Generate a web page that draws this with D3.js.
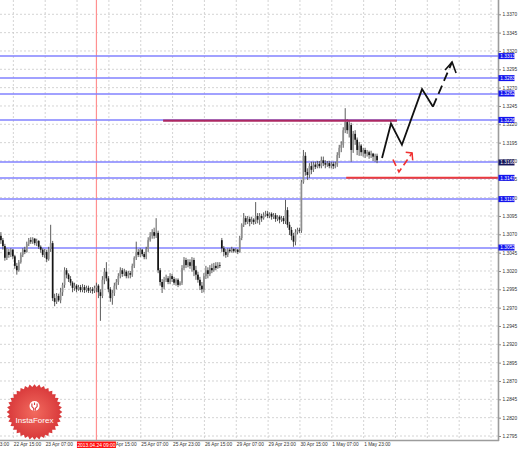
<!DOCTYPE html>
<html>
<head>
<meta charset="utf-8">
<script src="https://cdn.jsdelivr.net/npm/d3@7"></script>
<style>
  html, body { margin: 0; padding: 0; background: #fff; }
  svg { display: block; font-family: "Liberation Sans", Arial, sans-serif; }
</style>
</head>
<body>
<div id="chart"></div>
<script>
// H1 candles, first one is bar 10 (bar 0 = 21 Apr 23:00)
const firstBar = 10;

const opens = [
  1.3068,1.3062,1.3054,1.3038,1.3046,1.3042,1.3049,1.3040,1.3027,1.3021,
  1.3032,1.3042,1.3049,1.3046,1.3057,1.3062,1.3060,1.3064,1.3058,1.3061,
  1.3053,1.3049,1.3042,1.3046,1.3036,1.3050,1.3058,1.2983,1.2978,1.2986,
  1.2980,1.2991,1.3001,1.3021,1.3015,1.3009,1.3004,1.2997,1.3000,1.2995,
  1.2998,1.2994,1.2998,1.2994,1.2997,1.2993,1.2995,1.2993,1.2997,1.3000,
  1.2991,1.2986,1.3008,1.3019,1.3010,1.2995,1.2983,1.2990,1.3000,1.3005,
  1.3013,1.3021,1.3016,1.3019,1.3013,1.3017,1.3015,1.3027,1.3038,1.3046,
  1.3042,1.3049,1.3043,1.3039,1.3050,1.3062,1.3068,1.3073,1.3068,1.3072,
  1.3021,1.3005,1.2998,1.3008,1.3010,1.3005,1.3013,1.3009,1.3004,1.3008,
  1.3001,1.3004,1.3024,1.3035,1.3028,1.3032,1.3027,1.3035,1.3021,1.3015,
  1.3008,1.3000,1.2995,1.3013,1.3021,1.3016,1.3024,1.3021,1.3027,1.3024,
  1.3028,1.3062,1.3051,1.3046,1.3042,1.3049,1.3047,1.3050,1.3047,1.3049,
  1.3046,1.3065,1.3083,1.3092,1.3087,1.3091,1.3087,1.3090,1.3087,1.3095,
  1.3090,1.3095,1.3092,1.3096,1.3098,1.3095,1.3098,1.3094,1.3096,1.3091,
  1.3094,1.3090,1.3092,1.3088,1.3103,1.3083,1.3076,1.3068,1.3060,1.3073,
  1.3076,1.3075,1.3141,1.3177,1.3155,1.3151,1.3163,1.3158,1.3165,1.3162,
  1.3166,1.3163,1.3171,1.3167,1.3165,1.3167,1.3163,1.3166,1.3163,1.3165,
  1.3178,1.3188,1.3192,1.3212,1.3223,1.3212,1.3219,1.3185,1.3207,1.3199,
  1.3185,1.3191,1.3182,1.3185,1.3180,1.3182,1.3178,1.3180,1.3176,1.3177
];
const highs = [
  1.3073,1.3065,1.3057,1.3051,1.3050,1.3051,1.3050,1.3042,1.3031,1.3035,
  1.3045,1.3051,1.3053,1.3060,1.3065,1.3066,1.3066,1.3065,1.3064,1.3062,
  1.3055,1.3051,1.3050,1.3049,1.3053,1.3083,1.3061,1.2989,1.2990,1.2989,
  1.2997,1.3004,1.3025,1.3024,1.3017,1.3013,1.3006,1.3004,1.3002,1.3001,
  1.3001,1.3002,1.3001,1.3000,1.3000,1.2998,1.2998,1.3000,1.3004,1.3002,
  1.2995,1.3013,1.3024,1.3032,1.3013,1.2998,1.2994,1.3004,1.3009,1.3017,
  1.3025,1.3024,1.3023,1.3021,1.3020,1.3020,1.3030,1.3040,1.3060,1.3050,
  1.3051,1.3050,1.3046,1.3053,1.3066,1.3073,1.3077,1.3079,1.3092,1.3075,
  1.3024,1.3009,1.3012,1.3015,1.3013,1.3017,1.3016,1.3012,1.3010,1.3010,
  1.3006,1.3028,1.3039,1.3038,1.3036,1.3036,1.3039,1.3038,1.3027,1.3019,
  1.3012,1.3005,1.3017,1.3027,1.3025,1.3028,1.3030,1.3031,1.3032,1.3032,
  1.3032,1.3065,1.3054,1.3050,1.3051,1.3051,1.3053,1.3051,1.3051,1.3050,
  1.3068,1.3085,1.3099,1.3095,1.3095,1.3094,1.3094,1.3092,1.3114,1.3099,
  1.3099,1.3098,1.3100,1.3102,1.3102,1.3100,1.3100,1.3099,1.3099,1.3096,
  1.3096,1.3095,1.3095,1.3117,1.3107,1.3087,1.3080,1.3072,1.3077,1.3079,
  1.3079,1.3144,1.3185,1.3182,1.3160,1.3167,1.3169,1.3169,1.3169,1.3170,
  1.3170,1.3176,1.3176,1.3171,1.3170,1.3170,1.3169,1.3169,1.3169,1.3182,
  1.3192,1.3197,1.3216,1.3242,1.3227,1.3225,1.3222,1.3211,1.3212,1.3202,
  1.3196,1.3193,1.3188,1.3188,1.3185,1.3184,1.3184,1.3181,1.3180,1.3180
];
const lows = [
  1.3057,1.3049,1.3034,1.3035,1.3038,1.3039,1.3036,1.3023,1.3015,1.3019,
  1.3030,1.3039,1.3043,1.3045,1.3054,1.3057,1.3057,1.3055,1.3054,1.3050,
  1.3045,1.3039,1.3038,1.3032,1.3034,1.3046,1.2979,1.2972,1.2975,1.2978,
  1.2976,1.2986,1.2997,1.3010,1.3005,1.3000,1.2991,1.2993,1.2991,1.2993,
  1.2991,1.2991,1.2990,1.2991,1.2990,1.2990,1.2989,1.2990,1.2991,1.2983,
  1.2952,1.2983,1.3002,1.3006,1.2991,1.2978,1.2974,1.2986,1.2995,1.3001,
  1.3010,1.3012,1.3013,1.3010,1.3010,1.3010,1.3012,1.3024,1.3035,1.3039,
  1.3039,1.3040,1.3036,1.3036,1.3046,1.3060,1.3064,1.3064,1.3065,1.3017,
  1.3000,1.2990,1.2995,1.3005,1.3002,1.3002,1.3005,1.3001,1.3000,1.2998,
  1.3000,1.3001,1.3021,1.3024,1.3025,1.3023,1.3019,1.3013,1.3008,1.3004,
  1.2994,1.2990,1.2991,1.3009,1.3010,1.3013,1.3017,1.3019,1.3021,1.3023,
  1.3024,1.3046,1.3040,1.3038,1.3039,1.3045,1.3045,1.3045,1.3045,1.3043,
  1.3045,1.3062,1.3080,1.3083,1.3084,1.3081,1.3084,1.3083,1.3084,1.3085,
  1.3083,1.3087,1.3090,1.3094,1.3092,1.3092,1.3090,1.3091,1.3087,1.3088,
  1.3085,1.3087,1.3084,1.3084,1.3079,1.3069,1.3062,1.3053,1.3055,1.3070,
  1.3072,1.3072,1.3139,1.3150,1.3144,1.3147,1.3152,1.3155,1.3159,1.3160,
  1.3160,1.3160,1.3163,1.3160,1.3162,1.3160,1.3160,1.3159,1.3160,1.3162,
  1.3174,1.3182,1.3188,1.3208,1.3207,1.3202,1.3169,1.3181,1.3192,1.3178,
  1.3177,1.3177,1.3176,1.3174,1.3176,1.3173,1.3174,1.3170,1.3169,1.3167
];
const closes = [
  1.3062,1.3054,1.3038,1.3046,1.3042,1.3049,1.3040,1.3027,1.3021,1.3032,
  1.3042,1.3049,1.3046,1.3057,1.3062,1.3060,1.3064,1.3058,1.3061,1.3053,
  1.3049,1.3042,1.3046,1.3036,1.3050,1.3058,1.2983,1.2978,1.2986,1.2980,
  1.2991,1.3001,1.3021,1.3015,1.3009,1.3004,1.2997,1.3000,1.2995,1.2998,
  1.2994,1.2998,1.2994,1.2997,1.2993,1.2995,1.2993,1.2997,1.3000,1.2991,
  1.2986,1.3008,1.3019,1.3010,1.2995,1.2983,1.2990,1.3000,1.3005,1.3013,
  1.3021,1.3016,1.3019,1.3013,1.3017,1.3015,1.3027,1.3038,1.3046,1.3042,
  1.3049,1.3043,1.3039,1.3050,1.3062,1.3068,1.3073,1.3068,1.3072,1.3021,
  1.3005,1.2998,1.3008,1.3010,1.3005,1.3013,1.3009,1.3004,1.3008,1.3001,
  1.3004,1.3024,1.3035,1.3028,1.3032,1.3027,1.3035,1.3021,1.3015,1.3008,
  1.3000,1.2995,1.3013,1.3021,1.3016,1.3024,1.3021,1.3027,1.3024,1.3028,
  1.3027,1.3051,1.3046,1.3042,1.3049,1.3047,1.3050,1.3047,1.3049,1.3046,
  1.3065,1.3083,1.3092,1.3087,1.3091,1.3087,1.3090,1.3087,1.3095,1.3090,
  1.3095,1.3092,1.3096,1.3098,1.3095,1.3098,1.3094,1.3096,1.3091,1.3094,
  1.3090,1.3092,1.3088,1.3103,1.3083,1.3076,1.3068,1.3060,1.3073,1.3076,
  1.3075,1.3141,1.3177,1.3155,1.3151,1.3163,1.3158,1.3165,1.3162,1.3166,
  1.3163,1.3171,1.3167,1.3165,1.3167,1.3163,1.3166,1.3163,1.3165,1.3178,
  1.3188,1.3192,1.3212,1.3223,1.3212,1.3219,1.3185,1.3207,1.3199,1.3185,
  1.3191,1.3182,1.3185,1.3180,1.3182,1.3178,1.3180,1.3176,1.3177,1.3171
];

// time axis: one label every 16 bars starting at bar 0
const timeLabels = ["21 Apr 23:00","22 Apr 15:00","23 Apr 07:00","23 Apr 23:00","24 Apr 15:00",
  "25 Apr 07:00","25 Apr 23:00","26 Apr 15:00","29 Apr 07:00","29 Apr 23:00","30 Apr 15:00",
  "1 May 07:00","1 May 23:00"];
const gridBars = d3.range(0, 257, 16);
const markerBar = 58;  // 2013.04.24 09:00
const markerLabel = "2013.04.24 09:00";

const priceTicks = [1.3370,1.3345,1.3320,1.3295,1.3270,1.3245,1.3220,1.3195,1.3170,1.3145,1.3120,
  1.3095,1.3070,1.3045,1.3020,1.2995,1.2970,1.2945,1.2920,1.2895,1.2870,1.2845,1.2820,1.2795];

// horizontal levels drawn on the chart
const levels = [1.3313, 1.3283, 1.3262, 1.3226, 1.3168, 1.3147, 1.3118, 1.3052];
const resistLine = [[91.5, 1.3225], [209, 1.3225]];
const supportLine = [[183.5, 1.3147], [262, 1.3147]];

// forecast drawings (bar, price)
const mainForecast = [[201.5, 1.3174], [206, 1.3221], [211.5, 1.3192], [221.6, 1.3268], [227.1, 1.3244]];
const mainForecastDash = [[227.1, 1.3244], [236.7, 1.3305]];
const mainArrowHead = [[233.2, 1.3294], [236.7, 1.3305], [238.7, 1.3290]];
const altForecast = [[207, 1.3172], [210, 1.3155], [216.6, 1.3181]];
const altArrowHead = [[213.4, 1.3182], [216.6, 1.3181], [216.9, 1.3171]];

const width = 518, height = 449;
const plotRight = 498, plotBottom = 440;

const x = d3.scaleLinear().domain([0, 256]).range([-19, 490.5]);
const y = d3.scaleLinear().domain([1.2795, 1.3370]).range([436, 14.3]);

const svg = d3.select("#chart").append("svg")
  .attr("width", width)
  .attr("height", height);

// grid
const grid = svg.append("g").attr("stroke", "#c9c9c9").attr("stroke-dasharray", "2,2").attr("stroke-width", 0.8);
grid.selectAll(".v").data(gridBars).join("line")
  .attr("x1", d => x(d) + 0.5).attr("x2", d => x(d) + 0.5)
  .attr("y1", 0).attr("y2", plotBottom);
grid.selectAll(".h").data(priceTicks).join("line")
  .attr("x1", 0).attr("x2", plotRight)
  .attr("y1", d => y(d)).attr("y2", d => y(d));

// red time marker
svg.append("line")
  .attr("x1", x(markerBar)).attr("x2", x(markerBar))
  .attr("y1", 0).attr("y2", plotBottom)
  .attr("stroke", "#ff9090").attr("stroke-width", 1.2);

// InstaForex seal
const seal = svg.append("g").attr("transform", "translate(34.5,412)");
const grad = svg.append("defs").append("radialGradient").attr("id", "sealGrad");
grad.append("stop").attr("offset", "0%").attr("stop-color", "#f26a5e");
grad.append("stop").attr("offset", "100%").attr("stop-color", "#d8383a");
const teeth = 36;
seal.append("polygon")
  .attr("points", d3.range(teeth * 2).map(k => {
    const r = k % 2 ? 25 : 27.8, a = Math.PI * k / teeth;
    return [r * Math.sin(a), -r * Math.cos(a)].join(",");
  }).join(" "))
  .attr("fill", "url(#sealGrad)");
seal.append("circle").attr("cx", 0).attr("cy", -6).attr("r", 5).attr("fill", "#fff");
seal.append("path")
  .attr("d", "M-2.6,-8.5 L-2.6,-5.5 L-0.8,-3.5 L-0.8,-1.3 M2.6,-8.5 L2.6,-5.5 L0.8,-3.5 L0.8,-1.3 M0,-9.6 L0,-7")
  .attr("stroke", "#d8383a").attr("stroke-width", 1.1).attr("fill", "none");
seal.append("text")
  .attr("x", 0).attr("y", 10.5)
  .attr("text-anchor", "middle")
  .attr("fill", "#fff")
  .style("font-size", "8px")
  .text("InstaForex");

// horizontal levels (snapped so each one covers two pixel rows like the original)
svg.append("g").selectAll("line").data(levels).join("line")
  .attr("x1", 0).attr("x2", plotRight)
  .attr("y1", d => Math.round(y(d))).attr("y2", d => Math.round(y(d)))
  .attr("stroke", "#8282ff").attr("stroke-width", 1.6);

// candles
const bars = closes.map((c, k) => ({ i: firstBar + k, o: opens[k], h: highs[k], l: lows[k], c: c }));
const candles = svg.append("g").selectAll("g").data(bars).join("g");
candles.append("line")
  .attr("x1", d => x(d.i)).attr("x2", d => x(d.i))
  .attr("y1", d => y(d.h)).attr("y2", d => y(d.l))
  .attr("stroke", "#4a4a4a").attr("stroke-width", 0.9);
candles.append("rect")
  .attr("x", d => x(d.i) - 0.85).attr("width", 1.7)
  .attr("y", d => y(Math.max(d.o, d.c)))
  .attr("height", d => Math.max(0.7, Math.abs(y(d.o) - y(d.c))))
  .attr("fill", d => d.c >= d.o ? "#8e8e8e" : "#151515");

const line = d3.line().x(d => x(d[0])).y(d => y(d[1]));

// resistance / support segments
svg.append("path").attr("d", line(resistLine))
  .attr("stroke", "#ac2862").attr("stroke-width", 2.4).attr("fill", "none");
svg.append("path").attr("d", line(supportLine))
  .attr("stroke", "#ec3b3b").attr("stroke-width", 2).attr("fill", "none");

// forecast arrows
svg.append("path").attr("d", line(mainForecast))
  .attr("stroke", "#111").attr("stroke-width", 1.8).attr("fill", "none").attr("stroke-linejoin", "miter");
svg.append("path").attr("d", line(mainForecastDash))
  .attr("stroke", "#111").attr("stroke-width", 1.8).attr("fill", "none").attr("stroke-dasharray", "9,5");
svg.append("path").attr("d", line(mainArrowHead))
  .attr("stroke", "#111").attr("stroke-width", 1.6).attr("fill", "none");
svg.append("path").attr("d", line(altForecast))
  .attr("stroke", "#f03030").attr("stroke-width", 1.6).attr("fill", "none").attr("stroke-dasharray", "7,4");
svg.append("path").attr("d", line(altArrowHead))
  .attr("stroke", "#f03030").attr("stroke-width", 1.5).attr("fill", "none");

// borders
svg.append("line").attr("x1", plotRight + 0.5).attr("x2", plotRight + 0.5).attr("y1", 0).attr("y2", plotBottom + 1)
  .attr("stroke", "#9c9c9c").attr("stroke-width", 1.6);
svg.append("line").attr("x1", 0).attr("x2", plotRight + 1).attr("y1", plotBottom + 0.5).attr("y2", plotBottom + 0.5)
  .attr("stroke", "#9c9c9c").attr("stroke-width", 1.6);

// price axis
const yAxis = svg.append("g")
  .attr("transform", "translate(" + (plotRight + 1) + ",0)")
  .call(d3.axisRight(y).tickValues(priceTicks).tickFormat(d3.format(".4f")).tickSize(2).tickPadding(1.5));
yAxis.select(".domain").remove();
yAxis.selectAll("line").attr("stroke", "#888");
yAxis.selectAll("text").attr("fill", "#333").style("font-size", "4.8px").style("font-family", "Liberation Sans");

// time axis
const xAxis = svg.append("g")
  .attr("transform", "translate(0," + (plotBottom + 1) + ")")
  .call(d3.axisBottom(x).tickValues(d3.range(0, 193, 16)).tickFormat((d, i) => timeLabels[i]).tickSize(0).tickPadding(2));
xAxis.select(".domain").remove();
xAxis.selectAll("text")
  .attr("text-anchor", "start")
  .attr("x", 0.5)
  .attr("fill", "#333")
  .style("font-size", "4.8px").style("font-family", "Liberation Sans");

// level labels on the price scale
const tags = svg.append("g").selectAll("g").data(levels).join("g")
  .attr("transform", d => "translate(" + (plotRight + 0.5) + "," + y(d) + ")");
tags.append("rect").attr("x", 0).attr("y", -3).attr("width", 16).attr("height", 6)
  .attr("fill", d => d === 1.3168 ? "#14145a" : "#1414ee");
tags.append("text").attr("x", 1.8).attr("y", 1.7)
  .attr("fill", "#fff").style("font-size", "4.8px")
  .text(d => d3.format(".4f")(d));

// marker label on the time scale
const mk = svg.append("g").attr("transform", "translate(" + x(markerBar) + "," + (plotBottom + 1) + ")");
mk.append("rect").attr("x", -19.5).attr("y", 0.5).attr("width", 39).attr("height", 6.5).attr("fill", "#ff1010");
mk.append("text").attr("x", 0).attr("y", 5.6).attr("text-anchor", "middle")
  .attr("fill", "#fff").style("font-size", "4.9px").text(markerLabel);
</script>
</body>
</html>
